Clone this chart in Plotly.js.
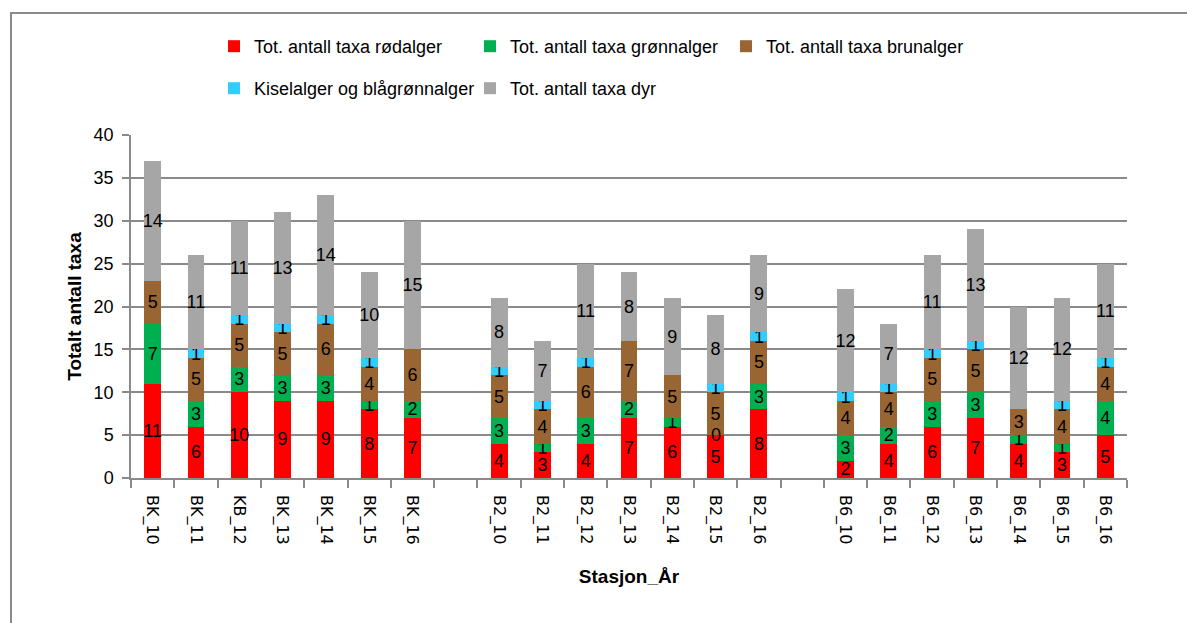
<!DOCTYPE html>
<html>
<head>
<meta charset="utf-8">
<script src="https://cdn.plot.ly/plotly-3.0.1.min.js"></script>
<style>
html,body{margin:0;padding:0;background:#fff;}
#chart{width:1187px;height:623px;}
</style>
</head>
<body>
<div id="chart"></div>
<script>
// Categories (blank entries are the empty gap categories between stations)
var categories = ["BK_10","BK_11","KB_12","BK_13","BK_14","BK_15","BK_16"," ",
  "B2_10","B2_11","B2_12","B2_13","B2_14","B2_15","B2_16","  ",
  "B6_10","B6_11","B6_12","B6_13","B6_14","B6_15","B6_16"];

var rodalger     = [11,6,10,9,9,8,7,null, 4,3,4,7,6,5,8,null, 2,4,6,7,4,3,5];
var gronnalger   = [7,3,3,3,3,1,2,null, 3,1,3,2,1,0,3,null, 3,2,3,3,1,1,4];
var brunalger    = [5,5,5,5,6,4,6,null, 5,4,6,7,5,5,5,null, 4,4,5,5,3,4,4];
var kiselalger   = [0,1,1,1,1,1,0,null, 1,1,1,0,0,1,1,null, 1,1,1,1,0,1,1];
var dyr          = [14,11,11,13,14,10,15,null, 8,7,11,8,9,8,9,null, 12,7,11,13,12,12,11];

// which zero values carry a visible "0" label in the original
var showZeroGreen = [false,false,false,false,false,false,false,false, false,false,false,false,false,true,false,false, false,false,false,false,false,false,false];

var seriesNames = ["Tot. antall taxa rødalger","Tot. antall taxa grønnalger","Tot. antall taxa brunalger","Kiselalger og blågrønnalger","Tot. antall taxa dyr"];
var seriesColors = ["#FF0000","#00B050","#996633","#33CCFF","#A6A6A6"];
var seriesData = [rodalger, gronnalger, brunalger, kiselalger, dyr];

var FONT = "'Liberation Sans', Arial, sans-serif";

function labels(vals){
  return vals.map(function(v){ return (v === null || v === 0) ? "" : String(v); });
}

var traces = seriesData.map(function(vals, i){
  return {
    type: "bar",
    name: seriesNames[i],
    x: categories,
    y: vals,
    text: labels(vals),
    textposition: "inside",
    insidetextanchor: "middle",
    textangle: 0,
    constraintext: "none",
    textfont: {family: FONT, size: 18, color: "#000"},
    marker: {color: seriesColors[i], line: {width: 0}},
    hoverinfo: "x+y+name",
    legend: i < 3 ? "legend" : "legend2"
  };
});

// "0" labels for zero-height segments that show a label, placed at the stack position
var zeroAnn = [];
showZeroGreen.forEach(function(s, k){
  if(s){
    zeroAnn.push({x: categories[k], y: rodalger[k] + gronnalger[k]/2, xref: "x", yref: "y",
      text: String(gronnalger[k]), showarrow: false, font: {family: FONT, size: 18, color: "#000"}});
  }
});

var legendCommon = {orientation: "h", traceorder: "normal", xref: "container", yref: "container",
  xanchor: "left", yanchor: "top", entrywidthmode: "pixels", entrywidth: 211,
  font: {family: FONT, size: 18, color: "#000"}, bgcolor: "rgba(0,0,0,0)"};

var layout = {
  width: 1187, height: 623,
  margin: {l: 131, r: 60, t: 135, b: 145},
  paper_bgcolor: "#fff", plot_bgcolor: "#fff",
  barmode: "stack",
  bargap: 0.61,
  font: {family: FONT, size: 16, color: "#000"},
  showlegend: true,
  legend: Object.assign({}, legendCommon, {x: 214/1187, y: 1 - 28/623}),
  legend2: Object.assign({}, legendCommon, {x: 214/1187, y: 1 - 70/623}),
  xaxis: {
    type: "category",
    categoryorder: "array", categoryarray: categories,
    showline: true, linecolor: "#8a8a8a", linewidth: 1.5,
    ticks: "outside", tickson: "boundaries", ticklen: 8, tickcolor: "#8a8a8a", tickwidth: 1.5,
    tickangle: 90, ticklabelstandoff: 12,
    tickfont: {family: "'DejaVu Sans', sans-serif", size: 16, color: "#000"},
    showgrid: false,
    title: {text: "<b>Stasjon_År</b>", font: {family: FONT, size: 19, color: "#000"}, standoff: 26}
  },
  yaxis: {
    range: [0, 40], dtick: 5, tick0: 0,
    showline: true, linecolor: "#8a8a8a", linewidth: 1.5,
    ticks: "outside", ticklen: 7, tickcolor: "#8a8a8a", tickwidth: 1.5,
    showgrid: true, gridcolor: "#8a8a8a", gridwidth: 1.5,
    zeroline: false, ticklabelstandoff: 5,
    tickfont: {family: FONT, size: 18, color: "#000"},
    title: {text: "<b>Totalt antall taxa</b>", font: {family: FONT, size: 19, color: "#000"}, standoff: 7}
  },
  annotations: zeroAnn,
  shapes: [{type: "rect", xref: "paper", yref: "paper",
    x0: (11-131)/996, x1: (1200-131)/996, y0: (478-640)/343, y1: (478-13)/343,
    line: {color: "#8a8a8a", width: 2}, fillcolor: "rgba(0,0,0,0)", layer: "below"}]
};

Plotly.newPlot("chart", traces, layout, {displayModeBar: false, staticPlot: false});
</script>
</body>
</html>
